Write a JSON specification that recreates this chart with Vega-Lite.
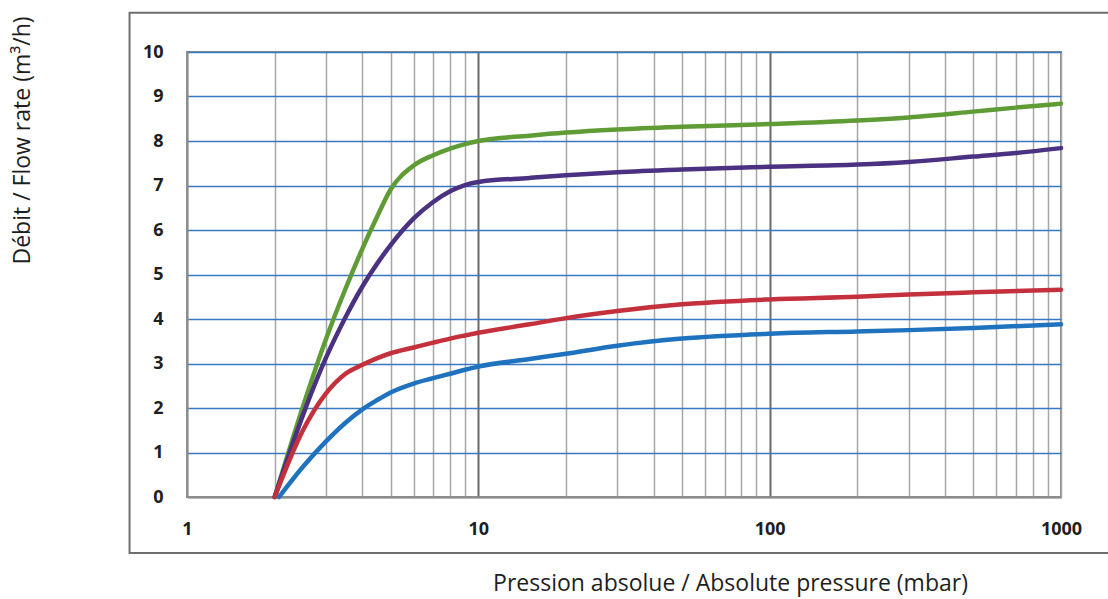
{
  "$schema": "https://vega.github.io/schema/vega-lite/v6.json",
  "width": 874,
  "height": 445,
  "autosize": {"type": "none"},
  "padding": {"left": 187, "top": 52, "right": 47, "bottom": 102},
  "background": "white",
  "config": {
    "view": {"stroke": "#8c8c8c", "strokeWidth": 2},
    "font": "Open Sans"
  },
  "datasets": {
    "curves": [
      {"p": 2, "q": 0, "s": "A"}, {"p": 2.5, "q": 2.03, "s": "A"}, {"p": 3, "q": 3.55, "s": "A"}, {"p": 3.5, "q": 4.68, "s": "A"}, {"p": 4, "q": 5.58, "s": "A"}, {"p": 4.5, "q": 6.31, "s": "A"}, {"p": 5, "q": 6.91, "s": "A"}, {"p": 6, "q": 7.45, "s": "A"}, {"p": 7, "q": 7.68, "s": "A"}, {"p": 8, "q": 7.83, "s": "A"}, {"p": 9, "q": 7.93, "s": "A"}, {"p": 10, "q": 8.0, "s": "A"}, {"p": 15, "q": 8.12, "s": "A"}, {"p": 20, "q": 8.19, "s": "A"}, {"p": 30, "q": 8.26, "s": "A"}, {"p": 50, "q": 8.32, "s": "A"}, {"p": 100, "q": 8.38, "s": "A"}, {"p": 200, "q": 8.46, "s": "A"}, {"p": 300, "q": 8.53, "s": "A"}, {"p": 500, "q": 8.66, "s": "A"}, {"p": 700, "q": 8.75, "s": "A"}, {"p": 1000, "q": 8.84, "s": "A"},
      {"p": 2, "q": 0, "s": "B"}, {"p": 2.5, "q": 1.84, "s": "B"}, {"p": 3, "q": 3.13, "s": "B"}, {"p": 3.5, "q": 4.04, "s": "B"}, {"p": 4, "q": 4.73, "s": "B"}, {"p": 4.5, "q": 5.25, "s": "B"}, {"p": 5, "q": 5.66, "s": "B"}, {"p": 6, "q": 6.26, "s": "B"}, {"p": 7, "q": 6.63, "s": "B"}, {"p": 8, "q": 6.87, "s": "B"}, {"p": 9, "q": 7.01, "s": "B"}, {"p": 10, "q": 7.08, "s": "B"}, {"p": 15, "q": 7.17, "s": "B"}, {"p": 20, "q": 7.23, "s": "B"}, {"p": 30, "q": 7.3, "s": "B"}, {"p": 50, "q": 7.36, "s": "B"}, {"p": 100, "q": 7.42, "s": "B"}, {"p": 200, "q": 7.47, "s": "B"}, {"p": 300, "q": 7.53, "s": "B"}, {"p": 500, "q": 7.65, "s": "B"}, {"p": 700, "q": 7.73, "s": "B"}, {"p": 1000, "q": 7.84, "s": "B"},
      {"p": 2, "q": 0, "s": "C"}, {"p": 2.5, "q": 1.5, "s": "C"}, {"p": 3, "q": 2.33, "s": "C"}, {"p": 3.5, "q": 2.77, "s": "C"}, {"p": 4, "q": 2.97, "s": "C"}, {"p": 4.5, "q": 3.12, "s": "C"}, {"p": 5, "q": 3.23, "s": "C"}, {"p": 6, "q": 3.36, "s": "C"}, {"p": 7, "q": 3.47, "s": "C"}, {"p": 8, "q": 3.56, "s": "C"}, {"p": 9, "q": 3.63, "s": "C"}, {"p": 10, "q": 3.69, "s": "C"}, {"p": 15, "q": 3.88, "s": "C"}, {"p": 20, "q": 4.02, "s": "C"}, {"p": 30, "q": 4.18, "s": "C"}, {"p": 50, "q": 4.33, "s": "C"}, {"p": 100, "q": 4.44, "s": "C"}, {"p": 200, "q": 4.5, "s": "C"}, {"p": 300, "q": 4.55, "s": "C"}, {"p": 500, "q": 4.6, "s": "C"}, {"p": 1000, "q": 4.66, "s": "C"},
      {"p": 2.07, "q": 0, "s": "D"}, {"p": 2.5, "q": 0.68, "s": "D"}, {"p": 3, "q": 1.25, "s": "D"}, {"p": 3.5, "q": 1.67, "s": "D"}, {"p": 4, "q": 1.97, "s": "D"}, {"p": 4.5, "q": 2.18, "s": "D"}, {"p": 5, "q": 2.35, "s": "D"}, {"p": 6, "q": 2.55, "s": "D"}, {"p": 7, "q": 2.67, "s": "D"}, {"p": 8, "q": 2.77, "s": "D"}, {"p": 9, "q": 2.86, "s": "D"}, {"p": 10, "q": 2.93, "s": "D"}, {"p": 15, "q": 3.1, "s": "D"}, {"p": 20, "q": 3.22, "s": "D"}, {"p": 30, "q": 3.4, "s": "D"}, {"p": 50, "q": 3.56, "s": "D"}, {"p": 100, "q": 3.67, "s": "D"}, {"p": 200, "q": 3.72, "s": "D"}, {"p": 300, "q": 3.75, "s": "D"}, {"p": 500, "q": 3.8, "s": "D"}, {"p": 1000, "q": 3.88, "s": "D"}
    ]
  },
  "layer": [
    {
      "data": {"values": [{}]},
      "mark": {"type": "rect", "filled": false, "stroke": "#6e6e6e", "strokeWidth": 2, "clip": false},
      "encoding": {
        "x": {"datum": 0.635, "type": "quantitative", "scale": {"type": "log", "domain": [1, 1000], "nice": false}},
        "x2": {"datum": 2500},
        "y": {"datum": -1.26, "type": "quantitative", "scale": {"domain": [0, 10], "nice": false}},
        "y2": {"datum": 10.88}
      }
    },
    {
      "data": {"name": "curves"},
      "mark": {"type": "line", "interpolate": "monotone", "strokeWidth": 4.5, "strokeCap": "round"},
      "encoding": {
        "x": {
          "field": "p", "type": "quantitative",
          "scale": {"type": "log", "domain": [1, 1000], "nice": false},
          "axis": {
            "title": "Pression absolue / Absolute pressure (mbar)",
            "values": [1, 2, 3, 4, 5, 6, 7, 8, 9, 10, 20, 30, 40, 50, 60, 70, 80, 90, 100, 200, 300, 400, 500, 600, 700, 800, 900, 1000],
            "labelExpr": "(datum.value == 1 || datum.value == 10 || datum.value == 100 || datum.value == 1000) ? format(datum.value, 'd') : ''",
            "labelFlush": false,
            "labelOverlap": false,
            "labelFont": "Open Sans",
            "labelFontSize": 18,
            "labelFontWeight": "bold",
            "labelColor": "#1e1e1e",
            "labelPadding": 23,
            "ticks": false,
            "domainColor": "#8c8c8c",
            "domainWidth": 2,
            "grid": true,
            "gridColor": {"condition": {"test": "datum.value == 10 || datum.value == 100", "value": "#6a6a6a"}, "value": "#a6a6a6"},
            "gridWidth": {"condition": {"test": "datum.value == 10 || datum.value == 100", "value": 2}, "value": 1.5},
            "gridOpacity": 1,
            "titleFont": "Open Sans",
            "titleFontSize": 23,
            "titleFontWeight": "normal",
            "titleColor": "#1e1e1e",
            "titleX": 543,
            "titleY": 86,
            "titleBaseline": "middle",
            "titleAnchor": "middle",
            "titleAlign": "center"
          }
        },
        "y": {
          "field": "q", "type": "quantitative",
          "scale": {"domain": [0, 10], "nice": false},
          "axis": {
            "title": "Débit / Flow rate (m³/h)",
            "values": [0, 1, 2, 3, 4, 5, 6, 7, 8, 9, 10],
            "format": "d",
            "labelFont": "Open Sans",
            "labelFontSize": 18,
            "labelFontWeight": "bold",
            "labelColor": "#1e1e1e",
            "labelPadding": 24,
            "ticks": false,
            "domainColor": "#8c8c8c",
            "domainWidth": 2,
            "grid": true,
            "gridColor": {"condition": {"test": "datum.value == 0", "value": "#8c8c8c"}, "value": "#3a78c4"},
            "gridWidth": 1.6,
            "gridOpacity": 1,
            "titleFont": "Open Sans",
            "titleFontSize": 23,
            "titleFontWeight": "normal",
            "titleColor": "#1e1e1e",
            "titleX": -165,
            "titleY": 88,
            "titleAngle": -90,
            "titleBaseline": "middle",
            "titleAnchor": "middle",
            "titleAlign": "center"
          }
        },
        "color": {
          "field": "s", "type": "nominal",
          "scale": {"domain": ["D", "C", "B", "A"], "range": ["#1f73be", "#c4303b", "#4a3181", "#5f9c35"]},
          "legend": null
        },
        "order": {"field": "p", "type": "quantitative"}
      }
    }
  ]
}
